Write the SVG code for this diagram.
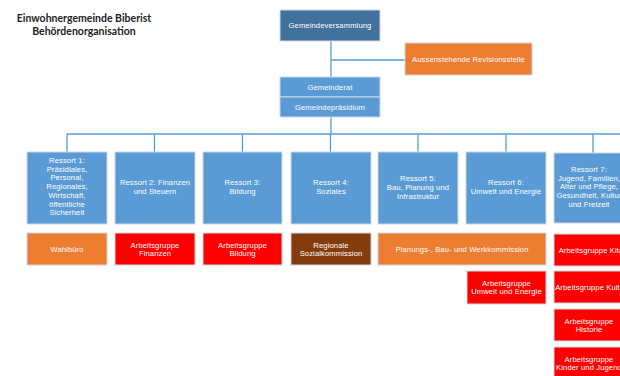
<svg xmlns="http://www.w3.org/2000/svg" width="620" height="376" viewBox="0 0 620 376">
<style>
.t{font-family:"Liberation Sans",Arial,sans-serif;font-size:7.6px;letter-spacing:0.12px;fill:#ffffff;text-anchor:middle}
.title{font-family:Lato,"Liberation Sans",sans-serif;font-size:10.5px;font-weight:bold;fill:#222222;text-anchor:middle}
.box{stroke:#d0d7e0;stroke-width:1}
.dk{fill:#41719c}
.lb{fill:#5b9bd5}
.or{fill:#ed7d31}
.rd{fill:#ff0000}
.br{fill:#843c0c}
.c{stroke:#5b9bd5;stroke-width:1.3;fill:none}
</style>
<rect width="620" height="376" fill="#ffffff"/>
<g id="title">
<text class="title" x="84" y="22">Einwohnergemeinde Biberist</text>
<text class="title" x="84" y="34.5">Behördenorganisation</text>
</g>
<g id="connectors">
<path class="c" d="M331 41V77M331 60H405M331 117V134M67 134H620M67 134V152M154.5 134V152M242.5 134V152M330.5 134V152M418 134V152M506 134V152M593 134V153"/>
</g>
<g id="gemeindeversammlung"><rect class="box dk" x="280" y="10" width="100" height="31"/><text class="t" x="330" y="28">Gemeindeversammlung</text></g>
<g id="revisionsstelle"><rect class="box or" x="405" y="43" width="127" height="32"/><text class="t" x="468.5" y="61.5">Aussenstehende Revisionsstelle</text></g>
<g id="gemeinderat"><rect class="box lb" x="280" y="77" width="100" height="20"/><text class="t" x="330" y="89.5">Gemeinderat</text></g>
<g id="gemeindepraesidium"><rect class="box lb" x="280" y="97" width="100" height="20"/><text class="t" x="330" y="110">Gemeindepräsidium</text></g>
<g id="ressort1"><rect class="box lb" x="27" y="152" width="80" height="72"/>
<text class="t" x="67" y="163">Ressort 1:<tspan x="67" dy="8.7">Präsidiales,</tspan><tspan x="67" dy="8.7">Personal,</tspan><tspan x="67" dy="8.7">Regionales,</tspan><tspan x="67" dy="8.7">Wirtschaft,</tspan><tspan x="67" dy="8.7">öffentliche</tspan><tspan x="67" dy="8.7">Sicherheit</tspan></text></g>
<g id="ressort2"><rect class="box lb" x="115" y="152" width="80" height="72"/>
<text class="t" x="155" y="184.5">Ressort 2:  Finanzen<tspan x="155" dy="9.5">und Steuern</tspan></text></g>
<g id="ressort3"><rect class="box lb" x="203" y="152" width="79" height="72"/>
<text class="t" x="242.5" y="184.5">Ressort 3:<tspan x="242.5" dy="9.5">Bildung</tspan></text></g>
<g id="ressort4"><rect class="box lb" x="291" y="152" width="80" height="72"/>
<text class="t" x="331" y="184.5">Ressort 4:<tspan x="331" dy="9.5">Soziales</tspan></text></g>
<g id="ressort5"><rect class="box lb" x="378" y="152" width="80" height="72"/>
<text class="t" x="418" y="180.5">Ressort 5:<tspan x="418" dy="9">Bau, Planung und</tspan><tspan x="418" dy="9">Infrastruktur</tspan></text></g>
<g id="ressort6"><rect class="box lb" x="466" y="152" width="80" height="72"/>
<text class="t" x="506" y="184.5">Ressort 6:<tspan x="506" dy="9.5">Umwelt und Energie</tspan></text></g>
<g id="ressort7"><rect class="box lb" x="554" y="153" width="80" height="70"/>
<text class="t" x="589" y="172">Ressort 7:<tspan x="589" dy="8.7">Jugend, Familien,</tspan><tspan x="589" dy="8.7">Alter und Pflege,</tspan><tspan x="589" dy="8.7">Gesundheit, Kultur</tspan><tspan x="589" dy="8.7">und Freizeit</tspan></text></g>
<g id="wahlbuero"><rect class="box or" x="27" y="233" width="80" height="32"/><text class="t" x="67" y="251.8">Wahlbüro</text></g>
<g id="ag-finanzen"><rect class="box rd" x="115" y="233" width="80" height="32"/><text class="t" x="155" y="247.5">Arbeitsgruppe<tspan x="155" dy="8.7">Finanzen</tspan></text></g>
<g id="ag-bildung"><rect class="box rd" x="203" y="233" width="79" height="32"/><text class="t" x="242.5" y="247.5">Arbeitsgruppe<tspan x="242.5" dy="8.7">Bildung</tspan></text></g>
<g id="sozialkommission"><rect class="box br" x="291" y="233" width="80" height="32"/><text class="t" x="331" y="247.5">Regionale<tspan x="331" dy="8.7">Sozialkommission</tspan></text></g>
<g id="pbwk"><rect class="box or" x="378" y="233" width="168" height="32"/><text class="t" x="462" y="251.8">Planungs-, Bau- und Werkkommission</text></g>
<g id="ag-umwelt"><rect class="box rd" x="467" y="271" width="79" height="33"/><text class="t" x="506.5" y="285.5">Arbeitsgruppe<tspan x="506.5" dy="8.7">Umwelt und Energie</tspan></text></g>
<g id="ag-kita"><rect class="box rd" x="554" y="234" width="80" height="32"/><text class="t" x="591" y="252.8">Arbeitsgruppe Kita</text></g>
<g id="ag-kultur"><rect class="box rd" x="554" y="271" width="80" height="32"/><text class="t" x="591" y="289.8">Arbeitsgruppe Kultur</text></g>
<g id="ag-historie"><rect class="box rd" x="554" y="309" width="80" height="32"/><text class="t" x="589" y="323.5">Arbeitsgruppe<tspan x="589" dy="8.7">Historie</tspan></text></g>
<g id="ag-kinder"><rect class="box rd" x="554" y="347" width="80" height="32"/><text class="t" x="589" y="361.5">Arbeitsgruppe<tspan x="589" dy="8.7">Kinder und Jugend</tspan></text></g>
</svg>
